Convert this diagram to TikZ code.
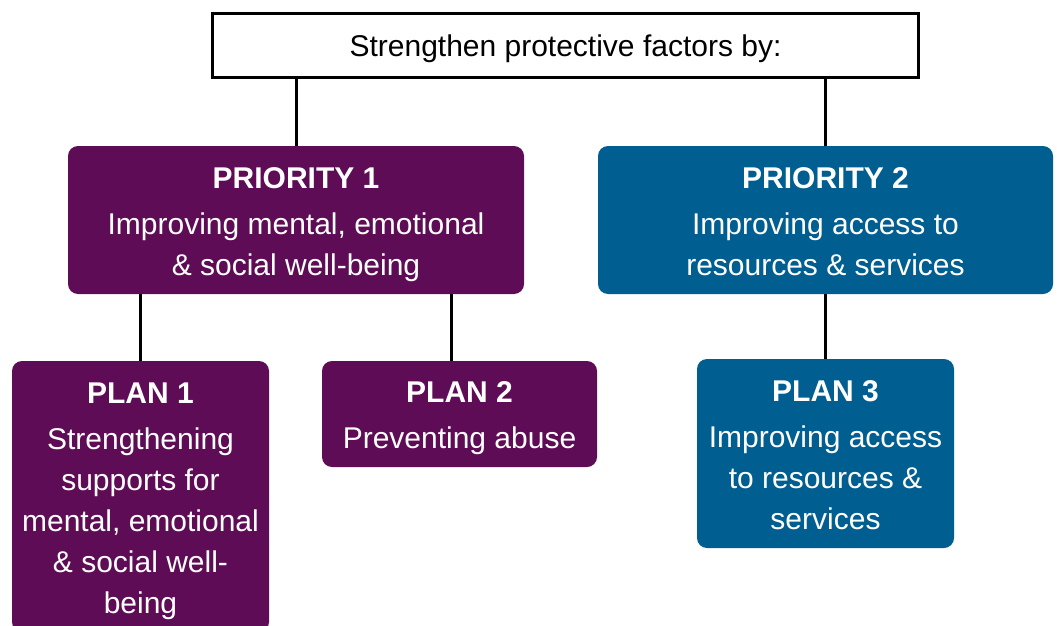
\documentclass[tikz,border=0pt]{standalone}
\usepackage{fontspec}
\setmainfont{Liberation Sans}
\definecolor{plumfill}{RGB}{94,12,85}
\definecolor{bluefill}{RGB}{0,94,145}
\newcommand{\lift}[1]{\rule{0pt}{#1}}
\newcommand{\sink}{\rule[-7pt]{0pt}{7pt}}
\tikzset{box/.style={rounded corners=10pt, text=white, align=center, inner sep=0pt},
	plum/.style={box, fill=plumfill},
	sea/.style={box, fill=bluefill},
	big/.style={font=\fontsize{30}{41}\selectfont}}

\begin{document}
\begin{tikzpicture}[x=1pt,y=-1pt]
		\useasboundingbox (0,0) rectangle (1057,626);
		\clip (0,0) rectangle (1057,626);
		\node[big, draw, line width=3pt, minimum width=706pt, minimum height=63pt] (S) at (565.5,45.5) {\lift{29pt}Strengthen protective factors by:};
		\begin{scope}[every node/.style={big}]
			\node[plum, minimum width=456pt, minimum height=148pt] (P1) at (296,220)
				{\lift{30pt}\textbf{PRIORITY 1}\\[5pt]Improving mental, emotional\\\& social well-being};
			\node[sea, minimum width=455pt, minimum height=148pt] (P2) at (825.5,220)
				{\lift{30pt}\textbf{PRIORITY 2}\\[5pt]Improving access to\\resources \& services\sink};
			\node[plum, minimum width=257pt, minimum height=271pt] (L1) at (140.5,496.5)
				{\lift{30pt}\textbf{PLAN 1}\\[5pt]Strengthening\\supports for\\mental, emotional\\\& social well-\\being};
			\node[plum, minimum width=275pt, minimum height=106pt] (L2) at (459.5,414)
				{\lift{30pt}\textbf{PLAN 2}\\[5pt]Preventing abuse};
			\node[sea, minimum width=257pt, minimum height=189pt] (L3) at (825.5,453.5)
				{\lift{30pt}\textbf{PLAN 3}\\[5pt]Improving access\\to resources \&\\services\sink};
		\end{scope}
		\begin{scope}[every edge/.style={draw=black, line width=3pt}]
			\path (S.south -| P1) edge (P1.north);
			\path (S.south -| P2) edge (P2.north);
			\path (P1.south -| L1) edge (L1.north);
			\path ([xshift=-8pt]L2.north |- P1.south) edge ([xshift=-8pt]L2.north);
			\path (P2.south -| L3) edge (L3.north);
		\end{scope}
	\end{tikzpicture}
\end{document}
